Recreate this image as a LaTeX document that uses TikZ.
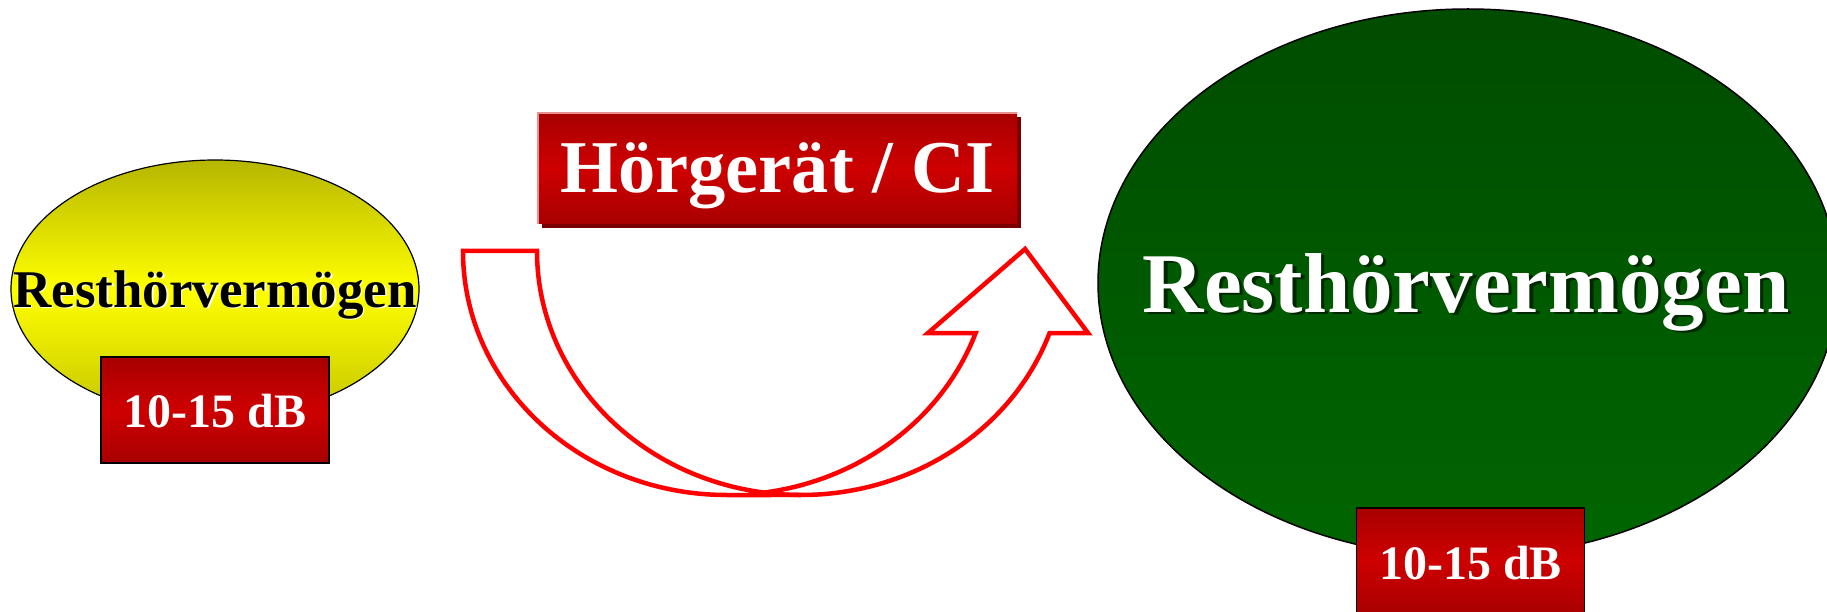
\documentclass[tikz,border=0pt]{standalone}
\usepackage{fontspec}
\setmainfont{Liberation Serif}
\usetikzlibrary{shapes.geometric}
\definecolor{yeltop}{HTML}{B6B600}
\definecolor{yelmid}{HTML}{FFFF00}
\definecolor{yelbot}{HTML}{C4C400}
\definecolor{grtop}{HTML}{004C00}
\definecolor{grbot}{HTML}{006600}
\definecolor{redtop}{HTML}{A80000}
\definecolor{redmid}{HTML}{CE0000}
\definecolor{redshadow}{HTML}{780000}
\definecolor{redlight}{HTML}{E89090}
\definecolor{arrowred}{HTML}{FF0000}
\definecolor{txtshadow}{HTML}{002800}
\definecolor{glow}{HTML}{FFFFE0}
\tikzset{
  redbox/.style={rectangle, inner sep=0pt, top color=redtop, bottom color=redtop, middle color=redmid},
  smallbox/.style={redbox, draw=black, line width=1.2pt, minimum width=228pt, minimum height=106pt},
  arrowline/.style={draw=arrowred, line width=4.5pt, line join=miter},
  whitetxt/.style={text=white, anchor=base, inner sep=0pt},
}
\begin{document}
\begin{tikzpicture}[x=1pt,y=-1pt]
\useasboundingbox (0,0) rectangle (1827,612);
\clip (0,0) rectangle (1827,612);
\fill[white] (0,0) rectangle (1827,612);

% left yellow ellipse
\node[ellipse, draw=black, line width=1.2pt, inner sep=0pt, minimum width=408pt, minimum height=258pt,
      top color=yeltop, bottom color=yelbot, middle color=yelmid] (yell) at (215,289) {};
\node[smallbox] (lbox) at (215,410) {};
\node[anchor=base, inner sep=0pt, text=glow, font=\fontsize{53}{60}\selectfont\bfseries] (ltxtglow) at (216.5,308.5) {Resthörvermögen};
\node[anchor=base, inner sep=0pt, font=\fontsize{53}{60}\selectfont\bfseries] (ltxt) at (215,307) {Resthörvermögen};
\node[whitetxt, font=\fontsize{48}{56}\selectfont\bfseries] (ldb) at (215,427) {10-15 dB};

% top box
\node[rectangle, inner sep=0pt, fill=redshadow, minimum width=479pt, minimum height=111pt] (hgshadow) at (781.5,172.5) {};
\node[redbox, minimum width=479pt, minimum height=111pt] (hg) at (777.5,168.5) {};
\draw[redlight, line width=2pt] (hg.south west) -- (hg.north west) -- (hg.north east);
\node[whitetxt, font=\fontsize{74.5}{82}\selectfont\bfseries] (hgtxt) at (777.5,193) {Hörgerät / CI};

% green ellipse
\node[ellipse, draw=black, line width=1.5pt, inner sep=0pt, minimum width=740pt, minimum height=548pt,
      top color=grtop, bottom color=grbot] (gell) at (1468,283) {};
\node[anchor=base, inner sep=0pt, text=txtshadow, font=\fontsize{85}{95}\selectfont\bfseries] (gtxtshadow) at (1469.5,314.5) {Resthörvermögen};
\node[whitetxt, font=\fontsize{85}{95}\selectfont\bfseries] (gtxt) at (1466,312) {Resthörvermögen};
\node[smallbox] (rbox) at (1470.5,561) {};
\node[whitetxt, font=\fontsize{48}{56}\selectfont\bfseries] (rdb) at (1470.5,579) {10-15 dB};

% curved up arrow
\draw[arrowline] (463,251) -- (537,251)
  arc[start angle=180, end angle=98.056, x radius=264, y radius=244]
  arc[start angle=81.944, end angle=19.64, x radius=264, y radius=244]
  -- (928,333) -- (1025,249) -- (1088,333) -- (1049.6,333)
  arc[start angle=19.64, end angle=90, x radius=264, y radius=244]
  -- (727,495)
  arc[start angle=90, end angle=180, x radius=264, y radius=244]
  -- cycle;
\coordinate (cusp) at (764,492.6);
\draw[arrowline] (cusp) arc[start angle=98.056, end angle=90, x radius=264, y radius=244];
\end{tikzpicture}
\end{document}
